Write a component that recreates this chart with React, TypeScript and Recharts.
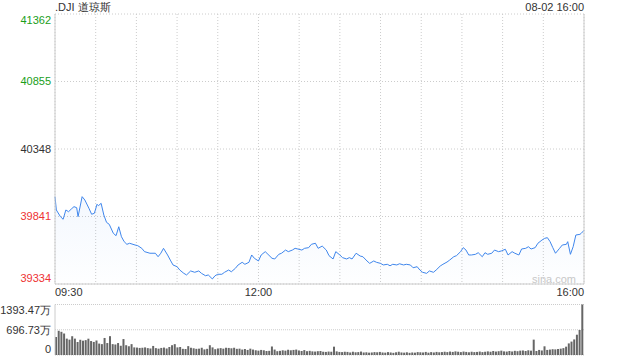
import React from 'react';
import { ComposedChart, Area, XAxis, YAxis, CartesianGrid, BarChart, Bar } from 'recharts';

const title = '.DJI 道琼斯';
const stamp = '08-02 16:00';
const watermark = 'sina.com';
const prevClose = 40348;

const priceTicks = [39334, 39841, 40348, 40855, 41362];
const timeTicks = [0, 30, 60, 90, 120, 150, 180, 210, 240, 270, 300, 330, 360, 390];
const timeLabels: Record<number, string> = { 0: '09:30', 150: '12:00', 390: '16:00' };
const volumeTicks = [0, 696.73, 1393.47];

// minutes after 09:30
const priceMinutes = [
  0, 1, 4, 6, 8, 10, 12, 14, 16, 17,
  20, 22, 25, 27, 29, 31, 32, 34, 36, 38,
  40, 43, 45, 47, 49, 51, 53, 55, 59, 61,
  64, 66, 70, 74, 76, 78, 80, 83, 85, 87,
  90, 92, 95, 97, 100, 103, 106, 108, 111, 113,
  116, 118, 120, 123, 125, 128, 130, 133, 135, 138,
  140, 143, 145, 147, 150, 152, 155, 157, 160, 162,
  165, 167, 170, 172, 175, 177, 179, 182, 184, 187,
  189, 192, 194, 197, 200, 202, 205, 207, 210, 212,
  215, 217, 219, 222, 225, 227, 230, 232, 235, 237,
  240, 242, 245, 247, 249, 252, 254, 257, 259, 262,
  264, 267, 269, 271, 274, 276, 279, 281, 284, 286,
  289, 291, 294, 296, 299, 301, 303, 305, 307, 310,
  312, 315, 317, 319, 322, 324, 327, 329, 332, 334,
  337, 339, 342, 344, 347, 349, 351, 354, 356, 359,
  361, 363, 365, 367, 369, 372, 374, 377, 378, 380,
  382, 384, 387, 388, 390,
];

const prices = [
  39990, 39890, 39840, 39820, 39890, 39877, 39897, 39915, 39907, 39840,
  39990, 39965, 39903, 39858, 39865, 39933, 39922, 39940, 39852, 39797,
  39782, 39715, 39697, 39764, 39689, 39652, 39632, 39640, 39627, 39622,
  39602, 39577, 39565, 39565, 39539, 39565, 39602, 39552, 39514, 39477,
  39464, 39439, 39414, 39402, 39432, 39422, 39432, 39414, 39396, 39402,
  39372, 39396, 39407, 39407, 39422, 39439, 39426, 39452, 39477, 39497,
  39482, 39497, 39552, 39527, 39507, 39552, 39577, 39557, 39527, 39522,
  39557, 39565, 39589, 39577, 39589, 39602, 39597, 39589, 39602, 39607,
  39632, 39640, 39602, 39619, 39589, 39547, 39522, 39577, 39552, 39532,
  39522, 39532, 39522, 39565, 39544, 39539, 39507, 39489, 39507, 39497,
  39489, 39477, 39482, 39471, 39482, 39477, 39486, 39477, 39482, 39477,
  39456, 39464, 39439, 39422, 39414, 39432, 39422, 39439, 39469, 39482,
  39499, 39514, 39539, 39547, 39577, 39607, 39589, 39552, 39552, 39557,
  39569, 39539, 39569, 39557, 39565, 39589, 39577, 39582, 39595, 39552,
  39577, 39565, 39552, 39597, 39602, 39614, 39597, 39607, 39640, 39664,
  39677, 39682, 39652, 39607, 39565, 39602, 39627, 39632, 39652, 39557,
  39614, 39702, 39707, 39715, 39737,
];

// volume in 万, one bar per two minutes
const volumes = [
  500, 668, 640, 593, 452, 424, 518, 452, 358, 420,
  395, 410, 450, 385, 360, 400, 315, 300, 470, 330,
  520, 300, 290, 330, 255, 440, 270, 240, 300, 210,
  205, 195, 200, 210, 190, 180, 250, 190, 175, 195,
  205, 180, 220, 270, 300, 210, 220, 170, 165, 245,
  200, 185, 170, 175, 200, 155, 170, 270, 210, 160,
  180, 190, 175, 200, 195, 185, 200, 170, 175, 150,
  165, 140, 175, 150, 130, 120, 140, 130, 110, 115,
  235, 150, 105, 115, 130, 120, 145, 130, 140, 150,
  125, 110, 135, 105, 115, 100, 95, 105, 110, 90,
  85, 95, 90, 230, 100, 85, 80, 90, 85, 70,
  90, 75, 80, 95, 70, 75, 65, 70, 80, 75,
  85, 70, 65, 80, 70, 60, 75, 90, 70, 65,
  75, 60, 70, 65, 80, 75, 70, 85, 65, 80,
  70, 85, 75, 80, 90, 80, 95, 85, 100, 90,
  80, 95, 85, 75, 90, 80, 85, 95, 80, 90,
  100, 90, 110, 95, 105, 120, 100, 95, 110, 100,
  115, 105, 120, 125, 110, 130, 120, 424, 110, 140,
  125, 240, 140, 150, 160, 155, 165, 175, 190, 230,
  320, 370, 430, 560, 690, 1393.47,
];

const priceData = priceMinutes.map((m, i) => ({ m, price: prices[i] }));
const volumeData = volumes.map((v, i) => ({ i, vol: v }));

const FONT = '"Liberation Sans", Arial, sans-serif';
const GREEN = '#1a9e1a';
const RED = '#ee3333';
const TEXT = '#333';
const BORDER = '#cccccc';
const LINE = '#3f86ec';

const tickColor = (v: number) => (v > prevClose ? GREEN : v < prevClose ? RED : TEXT);
const edgeShift = (v: number, ticks: number[]) =>
  v === ticks[ticks.length - 1] ? 6 : v === ticks[0] ? -6 : 0;

const LeftPriceTick = (props: any) => {
  const v = props.payload.value;
  return (
    <text x={51} y={props.y + edgeShift(v, priceTicks)} dy="0.35em" textAnchor="end"
      fill={tickColor(v)} fontSize={11} fontFamily={FONT}>{v}</text>
  );
};

const RightPriceTick = (props: any) => {
  const v = props.payload.value;
  const pct = ((v - prevClose) / prevClose) * 100;
  const label = (pct > 0 ? '+' : '') + pct.toFixed(2) + '%';
  return (
    <text x={588} y={props.y + edgeShift(v, priceTicks)} dy="0.35em" textAnchor="start"
      fill={tickColor(v)} fontSize={11} fontFamily={FONT}>{label}</text>
  );
};

const TimeTick = (props: any) => {
  const v = props.payload.value;
  const label = timeLabels[v];
  if (!label) return null;
  const anchor = v === 0 ? 'start' : v === 390 ? 'end' : 'middle';
  return (
    <text x={props.x} y={296} textAnchor={anchor} fill={TEXT} fontSize={11} fontFamily={FONT}>{label}</text>
  );
};

const VolumeTick = (props: any) => {
  const v = props.payload.value;
  const label = v === 0 ? '0' : v.toFixed(2) + '万';
  return (
    <text x={51} y={props.y + edgeShift(v, volumeTicks)} dy="0.35em" textAnchor="end"
      fill={TEXT} fontSize={11} fontFamily={FONT}>{label}</text>
  );
};

const textStyle: React.CSSProperties = {
  position: 'absolute', fontSize: 11, lineHeight: '14px', fontFamily: FONT, color: TEXT, whiteSpace: 'nowrap',
};

export default function App() {
  return (
    <div style={{ position: 'absolute', left: 0, top: 0, width: 640, height: 360, background: '#fff', fontFamily: FONT }}>
      <div style={{ ...textStyle, left: 55, top: 0 }}>{title}</div>
      <div style={{ ...textStyle, right: 56, top: 0 }}>{stamp}</div>

      <div style={{ position: 'absolute', left: 0, top: 0 }}>
        <ComposedChart width={640} height={300} data={priceData} margin={{ top: 14, right: 0, bottom: 0, left: 0 }}>
          <defs>
            <linearGradient id="priceFill" x1="0" y1="0" x2="0" y2="1">
              <stop offset="0%" stopColor={LINE} stopOpacity={0.1} />
              <stop offset="100%" stopColor={LINE} stopOpacity={0.01} />
            </linearGradient>
          </defs>
          <CartesianGrid stroke={BORDER} strokeDasharray="1 2" />
          <XAxis dataKey="m" type="number" domain={[0, 390]} ticks={timeTicks} height={16}
            axisLine={{ stroke: BORDER }} tickLine={false} tick={<TimeTick />} interval={0} />
          <XAxis xAxisId="top" orientation="top" dataKey="m" type="number" domain={[0, 390]} height={0}
            axisLine={{ stroke: BORDER }} tickLine={false} tick={false} />
          <YAxis domain={[39334, 41362]} ticks={priceTicks} width={55} axisLine={{ stroke: BORDER }}
            tickLine={false} tick={<LeftPriceTick />} interval={0} allowDataOverflow />
          <YAxis yAxisId="right" orientation="right" domain={[39334, 41362]} ticks={priceTicks} width={56}
            axisLine={{ stroke: BORDER }} tickLine={false} tick={<RightPriceTick />} interval={0} />
          <Area type="linear" dataKey="price" stroke={LINE} strokeWidth={1} fill="url(#priceFill)"
            isAnimationActive={false} dot={false} activeDot={false} />
        </ComposedChart>
      </div>

      <div style={{ ...textStyle, left: 532, top: 272, color: '#c8c8c8' }}>{watermark}</div>

      <div style={{ position: 'absolute', left: 0, top: 300 }}>
        <BarChart width={640} height={60} data={volumeData} margin={{ top: 4.5, right: 56, bottom: 5, left: 0 }}
          barCategoryGap={0}>
          <CartesianGrid stroke={BORDER} strokeDasharray="1 1" vertical={false} />
          <XAxis dataKey="i" hide />
          <YAxis domain={[0, 1393.47]} ticks={volumeTicks} width={55} axisLine={{ stroke: BORDER }}
            tickLine={false} tick={<VolumeTick />} interval={0} />
          <Bar dataKey="vol" fill="#666" barSize={2} isAnimationActive={false} />
        </BarChart>
      </div>
    </div>
  );
}
